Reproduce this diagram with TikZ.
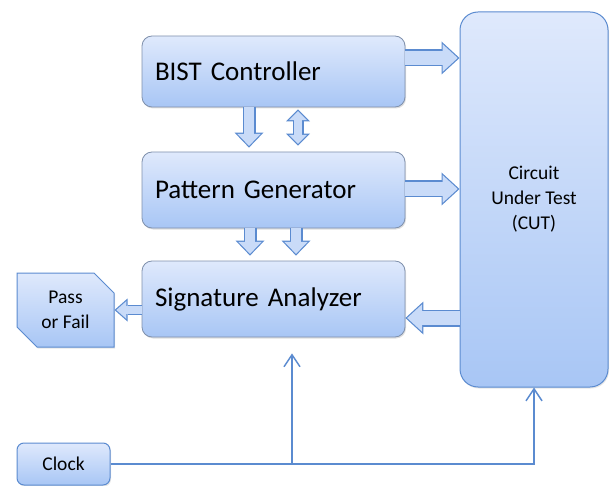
\documentclass[tikz,border=0pt]{standalone}
\usepackage{fontspec}
\setmainfont{Carlito}
\usepackage{tikz}
\usetikzlibrary{arrows.meta}
\usetikzlibrary{calc}
\usetikzlibrary{shapes}
\usetikzlibrary{shadows}
\definecolor{boxtop}{HTML}{DFE9FC}
\definecolor{boxbot}{HTML}{A8C6F5}
\definecolor{boxline}{HTML}{7F90AC}
\definecolor{cutline}{HTML}{5B8BD0}
\definecolor{arrfill}{HTML}{C9DBF8}

\begin{document}
\begin{tikzpicture}[x=1pt,y=-1pt,
  bigarrow/.style={draw=cutline,line width=17pt,-{Triangle[width=33pt,length=18pt,line width=0pt]},
    postaction={draw=arrfill,line width=14.6pt,shorten >=1.78pt,-{Triangle[width=27.5pt,length=15pt,line width=0pt]}}},
  downarrow/.style={draw=cutline,line width=13pt,-{Triangle[width=29pt,length=15pt,line width=0pt]},
    postaction={draw=arrfill,line width=10.6pt,shorten >=1.73pt,-{Triangle[width=23.3pt,length=12pt,line width=0pt]}}},
  smallarrow/.style={draw=cutline,line width=10pt,-{Triangle[width=23pt,length=13pt,line width=0pt]},
    postaction={draw=arrfill,line width=7.6pt,shorten >=1.81pt,-{Triangle[width=17.7pt,length=10pt,line width=0pt]}}},
  botharrow/.style={draw=cutline,line width=11pt,{Triangle[width=24pt,length=12pt,line width=0pt]}-{Triangle[width=24pt,length=12pt,line width=0pt]},
    postaction={draw=arrfill,line width=8.6pt,shorten >=1.7pt,shorten <=1.7pt,{Triangle[width=18.2pt,length=9.1pt,line width=0pt]}-{Triangle[width=18.2pt,length=9.1pt,line width=0pt]}}},
  clkline/.style={draw=cutline,line width=1.5pt,-{Straight Barb[length=12pt,width=16pt]}}]
  \tikzstyle{block}=[rectangle,rounded corners=10pt,draw=boxline,line width=0.8pt,top color=boxtop,bottom color=boxbot,
    drop shadow={opacity=0.25,shadow xshift=1pt,shadow yshift=-1.5pt},minimum width=263pt,text width=237pt,
    inner xsep=13pt,align=left,font=\fontsize{27}{32}\selectfont]
  \tikzstyle{smallbox}=[draw=cutline,line width=1pt,top color=boxtop,bottom color=boxbot,align=center,
    drop shadow={opacity=0.2,shadow xshift=1pt,shadow yshift=-1.5pt},font=\fontsize{19.5}{25}\selectfont]

  \useasboundingbox (0,0) rectangle (612,486);

  \node[block,minimum height=71pt] (bist) at (273.5,71.5) {BIST Controller};
  \node[block,minimum height=76pt] (pg)   at (273.5,190)  {Pattern Generator};
  \node[block,minimum height=76pt] (sa)   at (273.5,299)  {Signature Analyzer};
  \node[smallbox,rounded corners=18pt,minimum width=148pt,minimum height=375pt] (cut) at (534,199.5) {Circuit\\Under Test\\(CUT)};
  \node[smallbox,chamfered rectangle,chamfered rectangle corners={north east,south west},
        chamfered rectangle xsep=10pt,chamfered rectangle ysep=10pt,minimum width=97pt,minimum height=74pt] (pf) at (65.5,310) {Pass\\or Fail};
  \node[smallbox,rounded corners=7pt,minimum width=93pt,minimum height=42pt] (clock) at (63.5,464) {Clock};
  \coordinate (tap) at (292,0);

  % block arrows
  \draw[bigarrow] ([yshift=13.5pt]bist.east) -- ([yshift=13.5pt]bist.east -| cut.west);
  \draw[bigarrow] ([yshift=1pt]pg.east) -- ([yshift=1pt]pg.east -| cut.west);
  \draw[bigarrow] ([yshift=-118.5pt]cut.west) -- ([yshift=-118.5pt]cut.west -| sa.east);
  \draw[smallarrow] (sa.west |- pf.east) -- (pf.east);
  \draw[downarrow] ([xshift=-24.5pt]bist.south) -- ([xshift=-24.5pt,yshift=4pt]pg.north);
  \draw[botharrow] ([xshift=24.5pt,yshift=-2pt]bist.south) -- ([xshift=24.5pt,yshift=6pt]pg.north);
  \draw[downarrow] ([xshift=-23.5pt]pg.south) -- ([xshift=-23.5pt,yshift=5pt]sa.north);
  \draw[downarrow] ([xshift=22.5pt]pg.south) -- ([xshift=22.5pt,yshift=5pt]sa.north);

  % clock lines
  \draw[clkline] (clock.east) -| (cut.south);
  \draw[clkline] (clock.east -| tap) -- ([yshift=-16pt]sa.south -| tap);
\end{tikzpicture}
\end{document}
